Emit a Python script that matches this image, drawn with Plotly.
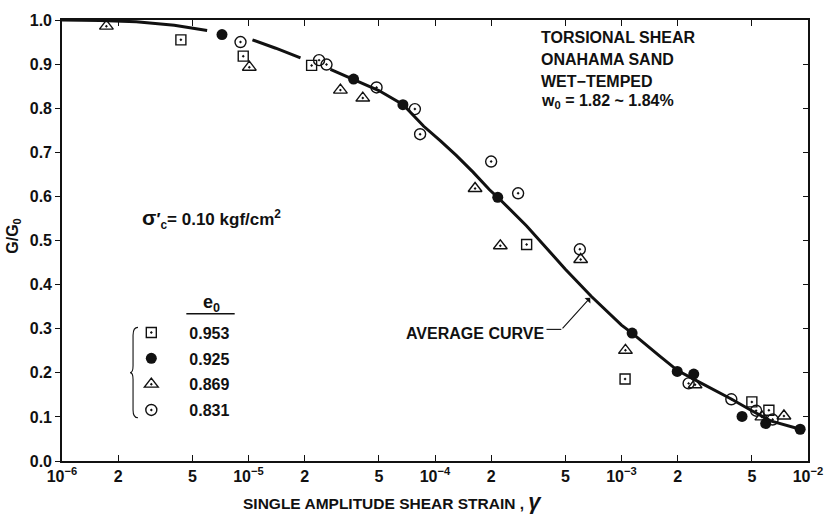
import plotly.graph_objects as go

# ---------------- data ----------------
eo_labels = ["0.953", "0.925", "0.869", "0.831"]

sq_x = [4.34e-6, 9.37e-6, 2.18e-5, 3.10e-4, 1.045e-3, 5.0e-3, 6.17e-3]
sq_y = [0.955, 0.918, 0.897, 0.491, 0.186, 0.134, 0.115]

fc_x = [7.21e-6, 3.66e-5, 6.73e-5, 2.17e-4, 1.14e-3, 1.99e-3, 2.44e-3, 4.43e-3, 5.93e-3, 9.08e-3]
fc_y = [0.967, 0.866, 0.808, 0.598, 0.290, 0.203, 0.197, 0.101, 0.085, 0.072]

tr_x = [1.73e-6, 1.01e-5, 3.11e-5, 4.10e-5, 1.64e-4, 2.24e-4, 6.04e-4, 1.05e-3, 2.48e-3, 5.66e-3, 7.43e-3]
tr_y = [0.986, 0.893, 0.841, 0.823, 0.618, 0.488, 0.457, 0.251, 0.173, 0.100, 0.102]

oc_x = [9.06e-6, 2.39e-5, 2.62e-5, 4.86e-5, 7.80e-5, 8.32e-5, 2.00e-4, 2.79e-4, 5.98e-4, 2.29e-3, 3.88e-3, 5.27e-3, 6.46e-3]
oc_y = [0.950, 0.909, 0.899, 0.847, 0.798, 0.741, 0.679, 0.607, 0.480, 0.176, 0.140, 0.114, 0.094]

curve_x = [1.0e-6, 1.6e-6, 2.5e-6, 4.0e-6, 6.0e-6, None, 1.05e-5, 1.4e-5, 1.9e-5, None,
           2.75e-5, 3.65e-5, 5.0e-5, 6.75e-5, 8.7e-5, 1.07e-4, 1.3e-4, 1.6e-4, 1.96e-4,
           2.17e-4, 3.1e-4, 5.0e-4, 6.9e-4, 1.0e-3, 1.14e-3, 1.58e-3, 2.0e-3, 2.45e-3,
           3.9e-3, 5.0e-3, 6.3e-3, 9.1e-3]
curve_y = [1.000, 0.999, 0.996, 0.988, 0.976, None, 0.955, 0.936, 0.914, None,
           0.888, 0.866, 0.840, 0.808, 0.759, 0.726, 0.693, 0.655, 0.615,
           0.598, 0.533, 0.435, 0.373, 0.308, 0.290, 0.240, 0.205, 0.185,
           0.140, 0.114, 0.091, 0.072]

x_tickvals = [1e-6, 2e-6, 5e-6, 1e-5, 2e-5, 5e-5, 1e-4, 2e-4, 5e-4, 1e-3, 2e-3, 5e-3, 1e-2]
x_ticktext = ["10<sup>−6</sup>", "2", "5", "10<sup>−5</sup>", "2", "5", "10<sup>−4</sup>",
              "2", "5", "10<sup>−3</sup>", "2", "5", "10<sup>−2</sup>"]
y_tickvals = [0.0, 0.1, 0.2, 0.3, 0.4, 0.5, 0.6, 0.7, 0.8, 0.9, 1.0]
y_ticktext = ["0.0", "0.1", "0.2", "0.3", "0.4", "0.5", "0.6", "0.7", "0.8", "0.9", "1.0"]

FONT = "Liberation Sans, Arial, Helvetica, sans-serif"
BLACK = "#111111"

fig = go.Figure()

fig.add_trace(go.Scatter(x=curve_x, y=curve_y, mode="lines", connectgaps=False,
                         line=dict(color=BLACK, width=3), showlegend=False, hoverinfo="skip"))

mk_line = dict(color=BLACK, width=1.4)
fig.add_trace(go.Scatter(x=sq_x, y=sq_y, mode="markers", name=eo_labels[0], legendgroup="a",
                         marker=dict(symbol="square-open-dot", size=10, color=BLACK, line=mk_line)))
fig.add_trace(go.Scatter(x=fc_x, y=fc_y, mode="markers", name=eo_labels[1], legendgroup="b",
                         marker=dict(symbol="circle", size=11, color=BLACK, line=dict(color=BLACK, width=0))))
fig.add_trace(go.Scatter(x=tr_x, y=tr_y, mode="markers", name=eo_labels[2], legendgroup="c",
                         marker=dict(symbol="triangle-up-open-dot", size=12, color=BLACK, line=mk_line)))
fig.add_trace(go.Scatter(x=oc_x, y=oc_y, mode="markers", name=eo_labels[3], legendgroup="d",
                         marker=dict(symbol="circle-open-dot", size=11, color=BLACK, line=mk_line)))
# helper trace for right-hand axis ticks
fig.add_trace(go.Scatter(x=[None], y=[None], yaxis="y2", showlegend=False, hoverinfo="skip"))

L, R, T, B = 62, 17, 12, 53
W, H = 835, 514
PW, PH = W - L - R, H - T - B


def px(xp):
    return (xp - L) / PW


def py(yp):
    return (H - B - yp) / PH


tfont = dict(family=FONT, size=16, color=BLACK, weight="bold")

annotations = [
    dict(text="TORSIONAL SHEAR", x=px(545), y=py(30), xref="paper", yref="paper",
         xanchor="left", yanchor="middle", showarrow=False, font=tfont),
    dict(text="ONAHAMA SAND", x=px(545), y=py(52.5), xref="paper", yref="paper",
         xanchor="left", yanchor="middle", showarrow=False, font=tfont),
    dict(text="WET−TEMPED", x=px(545), y=py(74.5), xref="paper", yref="paper",
         xanchor="left", yanchor="middle", showarrow=False, font=tfont),
    dict(text="w<sub>0</sub> = 1.82 ~ 1.84%", x=px(545), y=py(95), xref="paper", yref="paper",
         xanchor="left", yanchor="middle", showarrow=False, font=tfont),
    dict(text="<span style='font-size:21px'>σ</span>′<sub>c</sub>= 0.10 kgf/cm<sup>2</sup>",
         x=px(141), y=py(215), xref="paper", yref="paper",
         xanchor="left", yanchor="middle", showarrow=False,
         font=dict(family=FONT, size=17, color=BLACK, weight="bold")),
    dict(text="e<sub>0</sub>", x=px(213), y=py(301), xref="paper", yref="paper",
         xanchor="center", yanchor="middle", showarrow=False, font=dict(family=FONT, size=18, color=BLACK, weight="bold")),
    dict(text="AVERAGE CURVE", x=px(552), y=py(331), xref="paper", yref="paper",
         xanchor="right", yanchor="middle", showarrow=False, font=tfont),
    dict(text="", x=-3.168, y=0.370, xref="x", yref="y", showarrow=True,
         ax=-29, ay=32, arrowhead=1, arrowsize=1.2, arrowwidth=1.1, arrowcolor=BLACK,
         standoff=0, startstandoff=0),
    dict(text="G/G<sub>0</sub>", x=px(12), y=py(232), xref="paper", yref="paper",
         xanchor="center", yanchor="middle", textangle=-90, showarrow=False, font=tfont),
    dict(text="SINGLE AMPLITUDE SHEAR STRAIN , <span style='font-size:22px'><i>γ</i></span>",
         x=px(243), y=py(502), xref="paper", yref="paper",
         xanchor="left", yanchor="middle", showarrow=False,
         font=dict(family=FONT, size=15.5, color=BLACK, weight="bold")),
]

shapes = [
    dict(type="line", xref="paper", yref="paper", x0=px(188), x1=px(237), y0=py(311), y1=py(311),
         line=dict(color=BLACK, width=1.5)),
    dict(type="line", xref="paper", yref="paper", x0=px(553), x1=px(568), y0=py(327), y1=py(327),
         line=dict(color=BLACK, width=1.1)),
    dict(type="path", xref="paper", yref="paper",
         path=(f"M {px(139)},{py(325)} Q {px(134)},{py(325)} {px(134)},{py(333)} "
               f"L {px(134)},{py(364)} Q {px(134)},{py(371)} {px(131)},{py(371)} "
               f"Q {px(134)},{py(371)} {px(134)},{py(378)} "
               f"L {px(134)},{py(409)} Q {px(134)},{py(417)} {px(139)},{py(417)}"),
         line=dict(color=BLACK, width=1.1)),
]

fig.update_layout(
    width=W, height=H,
    margin=dict(l=L, r=R, t=T, b=B),
    paper_bgcolor="white", plot_bgcolor="white",
    font=dict(family=FONT, size=16, color=BLACK, weight="bold"),
    showlegend=True,
    legend=dict(x=px(114), y=py(313), xanchor="left", yanchor="top",
                bgcolor="rgba(0,0,0,0)", borderwidth=0, itemwidth=66,
                tracegroupgap=2, font=dict(family=FONT, size=16, color=BLACK, weight="bold"),
                itemclick=False, itemdoubleclick=False),
    xaxis=dict(type="log", range=[-6, -2], tickmode="array", tickvals=x_tickvals, ticktext=x_ticktext,
               ticks="inside", ticklen=6, tickwidth=1.3, tickcolor=BLACK,
               showline=True, linecolor=BLACK, linewidth=1.6, mirror="ticks",
               showgrid=False, zeroline=False,
               tickfont=dict(family=FONT, size=16, color=BLACK, weight="bold")),
    yaxis=dict(range=[0, 1.0], tickmode="array", tickvals=y_tickvals, ticktext=y_ticktext,
               ticks="outside", ticklen=5, tickwidth=1.3, tickcolor=BLACK,
               showline=True, linecolor=BLACK, linewidth=1.6, mirror=True,
               showgrid=False, zeroline=False,
               tickfont=dict(family=FONT, size=16, color=BLACK, weight="bold")),
    yaxis2=dict(range=[0, 1.0], overlaying="y", side="right", tickmode="array", tickvals=y_tickvals,
                ticks="inside", ticklen=5, tickwidth=1.3, tickcolor=BLACK, showticklabels=False,
                showline=False, showgrid=False, zeroline=False),
    annotations=annotations,
    shapes=shapes,
)

fig.write_html("out.html")
